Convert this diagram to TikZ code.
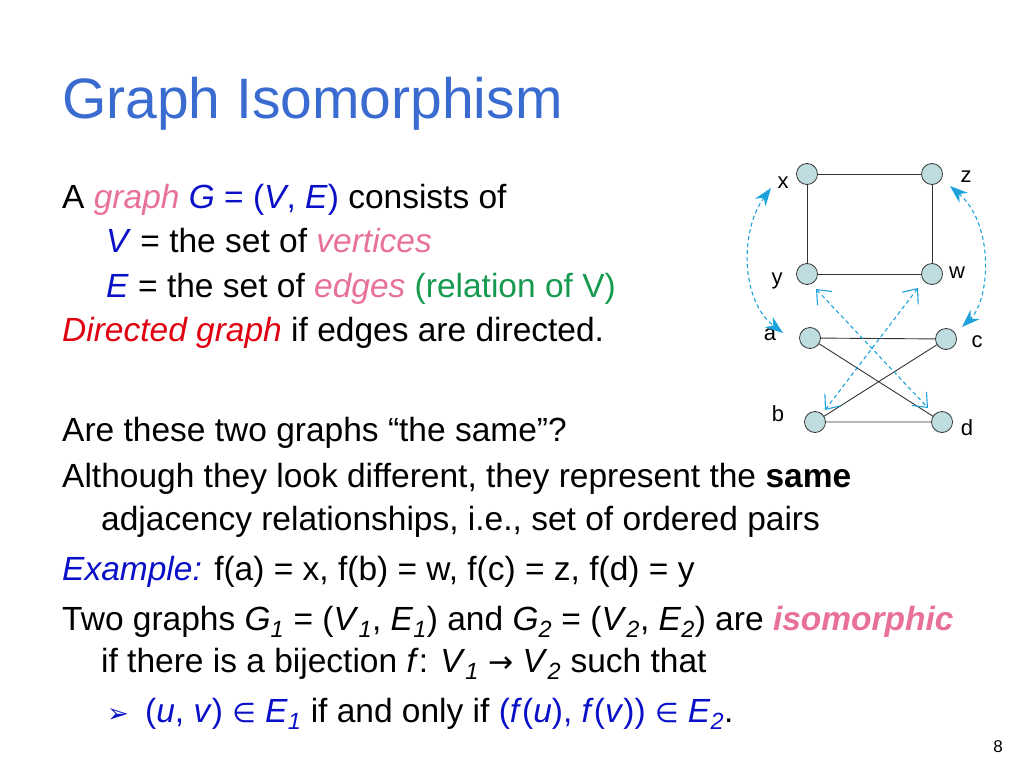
\documentclass[tikz,border=0pt]{standalone}
\usepackage{fontspec}
\setmainfont{Liberation Sans}
\newfontfamily\djv{DejaVu Sans}
\usetikzlibrary{arrows.meta}
\definecolor{ttl}{HTML}{3A6BD0}
\definecolor{pk}{HTML}{E8719A}
\definecolor{bl}{HTML}{0A10C8}
\definecolor{gr}{HTML}{159A50}
\definecolor{rd}{HTML}{E00010}
\definecolor{nd}{HTML}{BFDDE0}
\definecolor{dsh}{HTML}{1EA2DC}
\newcommand{\mysub}[1]{\textsubscript{\textit{#1}}}
\begin{document}
\begin{tikzpicture}[x=1pt,y=-1pt,
  txt/.style={anchor=base west,inner sep=0,font=\fontsize{33.5}{36}\selectfont},
  vx/.style={circle,draw=black!80,fill=nd,minimum size=21,inner sep=0,line width=0.8},
  lb/.style={font=\fontsize{22}{24}\selectfont,inner sep=0},
  ed/.style={line width=0.9,black!80},
  mp/.style={dsh,line width=1.1,dash pattern=on 4pt off 3pt},
  mpc/.style={mp,{Stealth[length=18pt,width=13pt]}-{Stealth[length=18pt,width=13pt]}},
  mps/.style={mp,{Straight Barb[length=12pt,width=20pt]}-{Straight Barb[length=12pt,width=20pt]}}]
\useasboundingbox (0,0) rectangle (1024,768);
\node[anchor=base west,inner sep=0,text=ttl,font=\fontsize{57}{60}\selectfont] (title) at (62,118) {Graph Isomorphism};
\node[txt] (l1) at (62,208) {A \textcolor{pk}{\textit{graph}} \textcolor{bl}{\textit{G} = (\textit{V}, \textit{E})} consists of};
\node[txt] (l2) at (106,252) {\textcolor{bl}{\textit{V}} = the set of \textcolor{pk}{\textit{vertices}}};
\node[txt] (l3) at (106,297) {\textcolor{bl}{\textit{E}} = the set of \textcolor{pk}{\textit{edges}} \textcolor{gr}{(relation of V)}};
\node[txt] (l4) at (62,341) {\textcolor{rd}{\textit{Directed graph}} if edges are directed.};
\node[txt] (l5) at (62,441) {Are these two graphs “the same”?};
\node[txt] (l6) at (62,487) {Although they look different, they represent the \textbf{same}};
\node[txt] (l7) at (101,530) {adjacency relationships, i.e., set of ordered pairs};
\node[txt] (l8) at (62,580) {\textcolor{bl}{\textit{Example:}} f(a) = x, f(b) = w, f(c) = z, f(d) = y};
\node[txt] (l9) at (62,630) {Two graphs \textit{G}\mysub{1} = (\textit{V}\mysub{1}, \textit{E}\mysub{1}) and \textit{G}\mysub{2} = (\textit{V}\mysub{2}, \textit{E}\mysub{2}) are \textcolor{pk}{\textbf{\textit{isomorphic}}}};
\node[txt] (l10) at (101,672) {if there is a bijection \textit{f}: \textit{V}\mysub{1} {\djv\fontsize{30}{32}\selectfont →} \textit{V}\mysub{2} such that};
\node[txt] (bul) at (107,722) {\textcolor{bl}{\djv\fontsize{26}{28}\selectfont ➢}};
\node[txt] (l11) at (145,722) {\textcolor{bl}{(\textit{u}, \textit{v}) {\djv\fontsize{27}{29}\selectfont ∈} \textit{E}\mysub{1}} if and only if \textcolor{bl}{(\textit{f}(\textit{u}), \textit{f}(\textit{v})) {\djv\fontsize{27}{29}\selectfont ∈} \textit{E}\mysub{2}}.};
\node[anchor=base east,inner sep=0,font=\fontsize{17}{19}\selectfont] (pg) at (1003,752) {8};
% graph 1
\node[vx] (x) at (807,174) {};
\node[vx] (z) at (932,174) {};
\node[vx] (y) at (807,274) {};
\node[vx] (w) at (932,274) {};
\draw[ed] (x) -- (z) -- (w) -- (y) -- (x);
% graph 2
\node[vx] (a) at (810,338) {};
\node[vx] (c) at (946,339) {};
\node[vx] (b) at (815,422) {};
\node[vx] (d) at (942,422) {};
\draw[ed] (a) -- (c) -- (b) -- (d) -- (a);
\node[lb] (lx) at (783,183) {x};
\node[lb] (lz) at (966,177) {z};
\node[lb] (ly) at (777,281) {y};
\node[lb] (lw) at (957,273) {w};
\node[lb] (la) at (770,335) {a};
\node[lb] (lc) at (977,342) {c};
\node[lb] (lb) at (778,414) {b};
\node[lb] (ld) at (967,428) {d};
% mappings
\coordinate (m1) at (771,188);
\coordinate (m2) at (783,333);
\coordinate (m3) at (950,186);
\coordinate (m4) at (962,327);
\coordinate (m5) at (816,289);
\coordinate (m6) at (928,408);
\coordinate (m7) at (918,288);
\coordinate (m8) at (825,410);
\draw[mpc] (m1) .. controls (740,230) and (740,300) .. (m2);
\draw[mpc] (m3) .. controls (995,225) and (990,300) .. (m4);
\draw[mps] (m5) -- (m6);
\draw[mps] (m7) -- (m8);
\end{tikzpicture}
\end{document}
